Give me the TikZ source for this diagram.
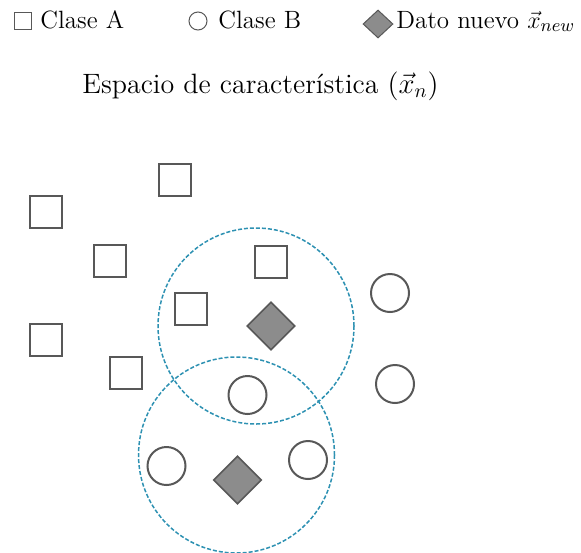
\documentclass[tikz,border=0pt]{standalone}
\usetikzlibrary{shapes.geometric}
\definecolor{shapeline}{RGB}{88,88,88}
\definecolor{diamondfill}{RGB}{140,140,140}
\definecolor{radius}{RGB}{45,145,178}
\tikzset{
  classA/.style={draw=shapeline, line width=1pt, rectangle, inner sep=0pt, minimum size=16pt},
  classB/.style={draw=shapeline, line width=1pt, circle, inner sep=0pt, minimum size=19pt},
  newpt/.style={draw=shapeline, line width=0.8pt, fill=diamondfill, diamond, inner sep=0pt, minimum width=24pt, minimum height=24pt},
  neighbourhood/.style={draw=radius, line width=0.75pt, dash pattern=on 2pt off 1pt, circle, inner sep=0pt, minimum size=98pt},
  legA/.style={draw=shapeline, line width=0.5pt, rectangle, inner sep=0pt, minimum size=8.5pt},
  legB/.style={draw=shapeline, line width=0.5pt, circle, inner sep=0pt, minimum size=9pt},
  legN/.style={draw=shapeline, line width=0.5pt, fill=diamondfill, diamond, inner sep=0pt, minimum width=15pt, minimum height=14pt},
  label/.style={inner sep=0pt, font=\fontsize{12.5}{15}\selectfont},
  heading/.style={inner sep=0pt, font=\fontsize{14}{17}\selectfont}
}
\begin{document}
\begin{tikzpicture}[x=0.5pt, y=-0.5pt]
\useasboundingbox (0,0) rectangle (581,552);
\clip (0,0) rectangle (581,552);

% legend
\node[legA] (lgA) at (22.5,21) {};
\node[label, anchor=base west] (txA) at (40,28) {Clase A};
\node[legB] (lgB) at (198,21) {};
\node[label, anchor=base west] (txB) at (218,28) {Clase B};
\node[legN] (lgN) at (378,24) {};
\node[label, anchor=base west] (txN) at (396,28) {Dato nuevo $\vec{x}_{new}$};

% title
\node[heading, anchor=base] (title) at (260.5,93) {Espacio de caracter\'istica $(\vec{x}_n)$};

% neighbourhoods of the new points
\node[neighbourhood] (nbUp) at (256,326) {};
\node[neighbourhood] (nbLow) at (236.5,455) {};

% class A samples
\node[classA] (a1) at (175,180) {};
\node[classA] (a2) at (45.5,212) {};
\node[classA] (a3) at (110,261) {};
\node[classA] (a4) at (270.5,262) {};
\node[classA] (a5) at (190.5,309) {};
\node[classA] (a6) at (45.5,340) {};
\node[classA] (a7) at (126,373) {};

% class B samples
\node[classB] (b1) at (390,293) {};
\node[classB] (b2) at (395,384) {};
\node[classB] (b3) at (247.5,395) {};
\node[classB] (b4) at (166.5,466) {};
\node[classB] (b5) at (308,460) {};

% new data points
\node[newpt] (n1) at (271,326) {};
\node[newpt] (n2) at (237.5,480) {};
\end{tikzpicture}
\end{document}
